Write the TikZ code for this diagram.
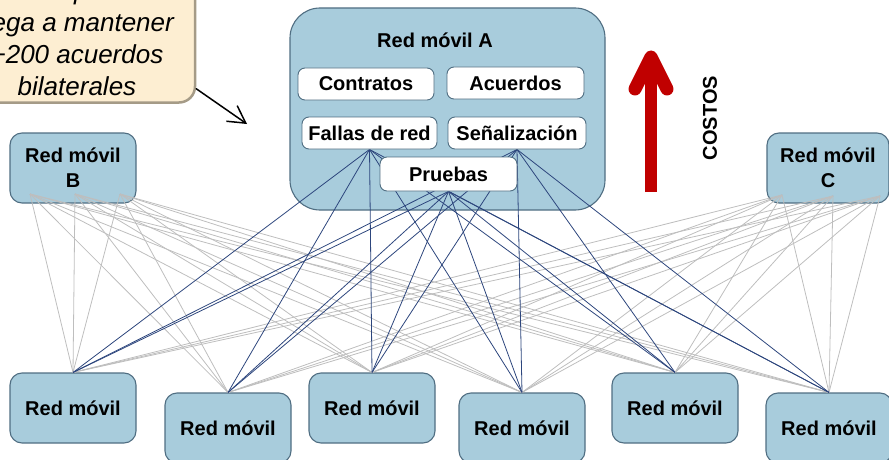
\documentclass[tikz,border=0pt]{standalone}
\usepackage{fontspec}
\setmainfont{Liberation Sans}
\usetikzlibrary{arrows.meta}
\definecolor{netfill}{RGB}{168,204,220}
\definecolor{netedge}{RGB}{80,110,130}
\definecolor{notefill}{RGB}{253,238,210}
\definecolor{noteedge}{RGB}{165,155,135}
\definecolor{linkgray}{RGB}{190,190,190}
\definecolor{linkblue}{RGB}{45,70,125}
\definecolor{costred}{RGB}{192,0,0}
\pgfdeclarelayer{background}
\pgfdeclarelayer{links}
\pgfsetlayers{background,links,main}
\begin{document}
\begin{tikzpicture}[
    x=1pt, y=-1pt,
    line join=round, line cap=round,
    every node/.style={font=\fontsize{20}{25}\selectfont\bfseries},
    net/.style={draw=netedge,fill=netfill,line width=1.1pt,rounded corners=12pt,
        minimum width=126pt,minimum height=70pt,inner sep=0pt,align=center},
    topic/.style={draw=netedge,fill=white,line width=0.9pt,rounded corners=7pt,
        minimum width=136pt,minimum height=32pt,inner sep=0pt},
    graylink/.style={draw=linkgray,line width=0.8pt},
    bluelink/.style={draw=linkblue,line width=0.8pt}
]
    \useasboundingbox (0,0) rectangle (889,460);
    \clip (0,0) rectangle (889,460);

    % The callout runs off the top left corner of the page.
    \node[draw=noteedge,fill=notefill,line width=2.5pt,rounded corners=16pt,
        minimum width=240pt,minimum height=145pt,inner sep=0pt] (note) at (75,30) {};
    \node[font=\fontsize{26}{32}\selectfont\mdseries\itshape,align=center,inner sep=0pt]
        (notetext) at (77,38.5) {Cada operador\\llega a mantener\\+200 acuerdos\\bilaterales};
    \coordinate (notetip) at (247,124);
    \draw[-{Straight Barb[length=17pt,width=19pt]},line width=1.5pt]
        ([yshift=15pt]note.south east) -- (notetip);

    % Cost arrow.
    \draw[costred,line width=12pt,line cap=butt] (651,192) -- (651,62);
    \draw[costred,line width=13pt] (635,89) -- (651,57) -- (667,89);
    \node[rotate=90] (costos) at (710,118) {COSTOS};

    \begin{pgfonlayer}{background}
        \node[net] (B) at (73,168) {Red móvil\\B};
        \node[net,minimum width=122pt] (C) at (828,168) {Red móvil\\C};
        \node[net] (n1) at (73,408) {Red móvil};
        \node[net] (n2) at (228,428) {Red móvil};
        \node[net] (n3) at (372,408) {Red móvil};
        \node[net] (n4) at (522,428) {Red móvil};
        \node[net] (n5) at (675,408) {Red móvil};
        \node[net] (n6) at (829,428) {Red móvil};
        \node[net,minimum width=315pt,minimum height=202pt,rounded corners=30pt]
            (A) at (447.5,109) {};
    \end{pgfonlayer}

    \node (Atitle) at (435,40) {Red móvil A};
    \node[topic] (contratos) at (366,84) {Contratos};
    \node[topic,minimum width=137pt] (acuerdos) at (515.5,83) {Acuerdos};
    \node[topic,minimum width=135pt] (fallas) at (369.5,133) {Fallas de red};
    \node[topic,minimum width=138pt] (senal) at (517,133) {Señalización};
    \node[topic,minimum width=137pt,minimum height=34pt] (pruebas) at (448.5,174) {Pruebas};

    % Each of B and C leaves from three points near its lower edge.
    \coordinate (B1) at (30,194);
    \coordinate (B2) at (75,194);
    \coordinate (B3) at (120,194);
    \coordinate (C1) at (782,195);
    \coordinate (C2) at (833,196);
    \coordinate (C3) at (880,196);

    \begin{pgfonlayer}{links}
        \foreach \src in {B1,B2,B3,C1,C2,C3}
            \foreach \i in {1,...,6}
                \draw[graylink] (\src) -- (n\i.north);
        \foreach \src in {fallas,senal,pruebas}
            \foreach \i in {1,...,6}
                \draw[bluelink] (\src.south) -- (n\i.north);
    \end{pgfonlayer}
\end{tikzpicture}
\end{document}
